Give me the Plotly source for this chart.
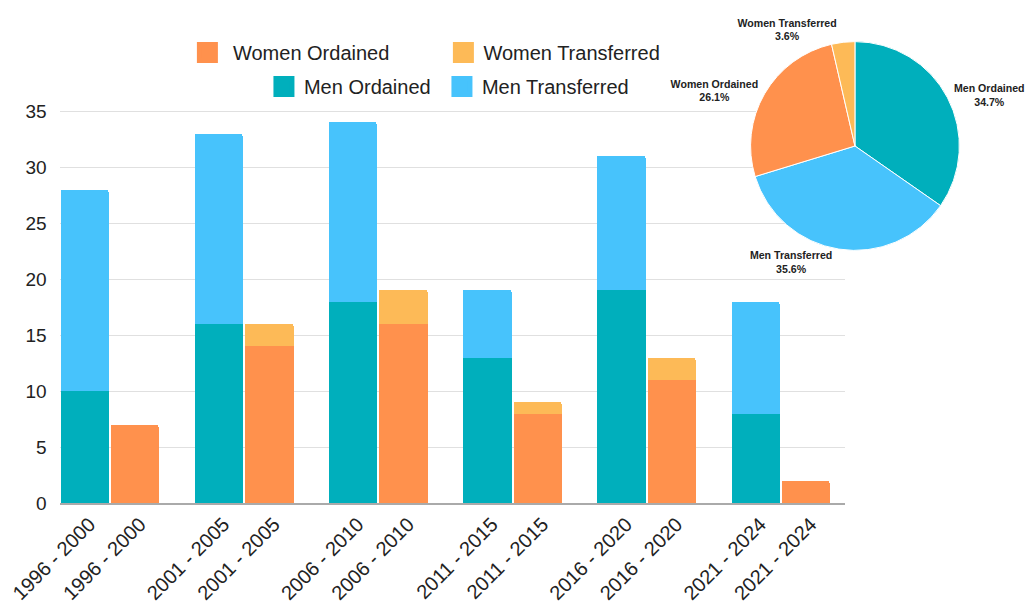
import plotly.graph_objects as go

# ---------------- data ----------------
periods = ["1996 - 2000", "2001 - 2005", "2006 - 2010", "2011 - 2015", "2016 - 2020", "2021 - 2024"]
men_ordained = [10, 16, 18, 13, 19, 8]
men_transferred = [18, 17, 16, 6, 12, 10]
women_ordained = [7, 14, 16, 8, 11, 2]
women_transferred = [0, 2, 3, 1, 2, 0]

pie_labels = ["Men Ordained", "Men Transferred", "Women Ordained", "Women Transferred"]
pie_values = [77, 79, 58, 8]

y_ticks = [0, 5, 10, 15, 20, 25, 30, 35]

# ---------------- style ----------------
C_MO = "#00AFBC"
C_MT = "#47C3FC"
C_WO = "#FF914D"
C_WT = "#FDBA57"
FONT = "Liberation Sans"
TXT = "#222222"
W, H = 1030, 606
WE = 1025.0  # effective horizontal extent used for paper fractions


def fx(px):
    return px / WE


def fy(py):
    return 1 - py / H


off = 0.188
bw = 0.36
men_x = [i - off for i in range(len(periods))]
women_x = [i + off for i in range(len(periods))]
tick_vals = [v for pair in zip(men_x, women_x) for v in pair]
tick_text = [p for p in periods for _ in range(2)]

fig = go.Figure()

fig.add_bar(x=men_x, y=men_ordained, width=bw, marker=dict(color=C_MO, line=dict(width=0)),
            name="Men Ordained", showlegend=False)
fig.add_bar(x=men_x, y=men_transferred, width=bw, marker=dict(color=C_MT, line=dict(width=0)),
            name="Men Transferred", showlegend=False)
fig.add_bar(x=women_x, y=women_ordained, width=bw, marker=dict(color=C_WO, line=dict(width=0)),
            name="Women Ordained", showlegend=False)
fig.add_bar(x=women_x, y=women_transferred, width=bw, marker=dict(color=C_WT, line=dict(width=0)),
            name="Women Transferred", showlegend=False)


# legend proxies (bigger squares than the default bar swatch)
def proxy(name, color, legend, lw):
    fig.add_scatter(x=[None], y=[None], mode="markers", name=name, legend=legend, legendwidth=lw,
                    marker=dict(symbol="square", size=16, color=color, line=dict(color=color, width=5)))


proxy("\u00a0Women Ordained", C_WO, "legend", 211)
proxy("Women Transferred", C_WT, "legend", 195)
proxy("Men Ordained", C_MO, "legend2", 133)
proxy("Men Transferred", C_MT, "legend2", 170)

pie_cx, pie_cy, pie_r = 860, 146, 105
fig.add_pie(labels=pie_labels, values=pie_values, sort=False, direction="clockwise", rotation=0,
            marker=dict(colors=[C_MO, C_MT, C_WO, C_WT], line=dict(color="white", width=1)),
            textposition="outside", textinfo="label+percent",
            textfont=dict(family=FONT, size=10.6, color=TXT, weight="bold"),
            domain=dict(x=[fx(pie_cx - pie_r), fx(pie_cx + pie_r)],
                        y=[fy(pie_cy + pie_r), fy(pie_cy - pie_r)]),
            showlegend=False)

fig.update_layout(
    width=W, height=H, autosize=False,
    margin=dict(l=0, r=0, t=0, b=0, pad=0),
    paper_bgcolor="white", plot_bgcolor="white",
    barmode="stack", bargap=0, barcornerradius=3,
    font=dict(family=FONT, color=TXT),
    legend=dict(orientation="h", x=fx(188.5), y=fy(33), xanchor="left", yanchor="top",
                traceorder="normal", entrywidth=211, entrywidthmode="pixels",
                font=dict(size=20, color=TXT), bgcolor="rgba(0,0,0,0)"),
    legend2=dict(orientation="h", x=fx(265.5), y=fy(67), xanchor="left", yanchor="top",
                 traceorder="normal", entrywidth=133, entrywidthmode="pixels",
                 font=dict(size=20, color=TXT), bgcolor="rgba(0,0,0,0)"),
    xaxis=dict(domain=[fx(60), fx(850)], range=[-0.373, 5.48], tickmode="array",
               tickvals=tick_vals, ticktext=tick_text, tickangle=-45,
               tickfont=dict(size=20, color=TXT), showgrid=False, zeroline=False,
               showline=True, linecolor="#AAAAAA", linewidth=1.5, ticks="",
               ticklabeloverflow="allow", ticklabelshift=5, automargin=False),
    yaxis=dict(domain=[fy(503), fy(99.8)], range=[0, 36], tickmode="array",
               tickvals=y_ticks, tickfont=dict(size=19, color=TXT), showgrid=True,
               gridcolor="#E0E0E0", gridwidth=1, zeroline=False, showline=False,
               ticklabelstandoff=12, automargin=False),
)

post = (
    "document.documentElement.style.margin='0';"
    "document.documentElement.style.overflow='hidden';"
    "document.body.style.margin='0';"
    "document.body.style.overflow='hidden';"
    "var gd=document.getElementById('{plot_id}');"
    "Plotly.relayout(gd,{width:%d,height:%d});" % (W, H)
)

fig.write_html("out.html", post_script=post,
               config={"responsive": False, "displayModeBar": False})
